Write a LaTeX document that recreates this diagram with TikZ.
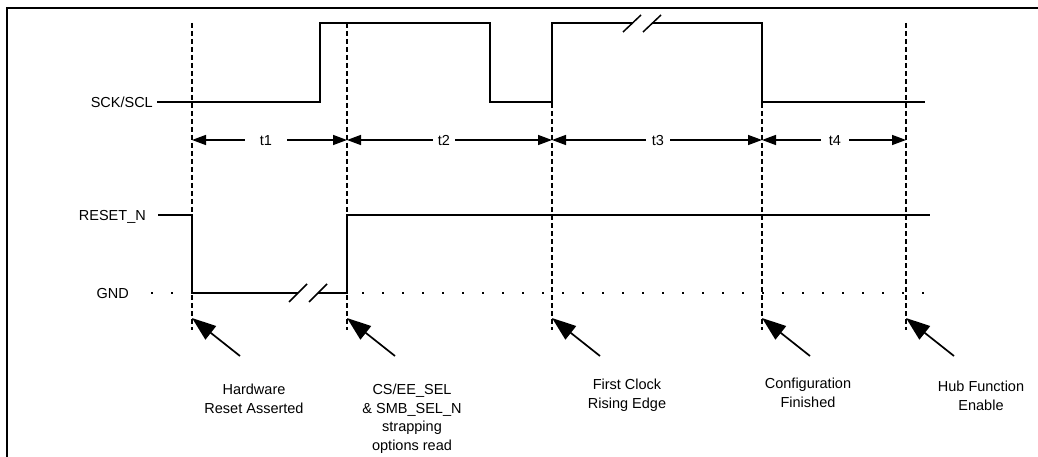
\documentclass[tikz,border=0pt]{standalone}
\usepackage{fontspec}
\setmainfont{Liberation Sans}
\usetikzlibrary{arrows.meta, positioning}

\begin{document}
\begin{tikzpicture}[
        x=1pt, y=-1pt,
        frame/.style={draw, line width=1.7pt},
        signal/.style={draw, line width=1.8pt},
        level/.style={draw, line width=1.7pt, dash pattern=on 2pt off 18pt},
        marker/.style={draw, line width=1.5pt, dash pattern=on 5pt off 3pt},
        breakmark/.style={draw, line width=1.5pt},
        dimarrow/.style={-{Triangle[length=14pt, width=10pt]}, line width=1.5pt},
        eventarrow/.style={-{Triangle[length=24pt, width=17pt]}, line width=1.7pt},
        siglabel/.style={anchor=east, inner sep=0pt, text height=10.5pt, text depth=0pt,
                     font=\fontsize{14.5}{18.5}\selectfont},
        dimlabel/.style={inner ysep=0pt, text height=10.5pt, text depth=0pt,
                     font=\fontsize{14.5}{18.5}\selectfont},
        note/.style={anchor=north, align=center, inner sep=0pt,
                     font=\fontsize{14.5}{18.5}\selectfont}
    ]
        \useasboundingbox (0,0) rectangle (1038,457);
        \draw[frame] (7,457) -- (7,8) -- (1038,8);

        % Event markers
        \foreach \x [count=\i] in {192,347,552,762,906} {
            \coordinate (top\i) at (\x,23);
            \coordinate (bot\i) at (\x,330);
            \coordinate (tip\i) at (\x,318);
            \coordinate (tail\i) at (\x+48,356);
            \draw[marker] (top\i) -- (bot\i);
        }

        % Signal names
        \node[siglabel] (sck) at (153,102) {SCK/SCL};
        \node[siglabel] (reset) at (146,215) {RESET\_N};
        \node[siglabel] (gnd) at (129,293) {GND};

        % SCK/SCL waveform
        \draw[signal] (157,102) -| (320,23) -| (490,102) -| (552,23) -- (632,23);
        \draw[signal] (652,23) -- (762,23) -- (762,102) -- (925,102);
        \draw[breakmark] (623,32) -- (641,15);
        \draw[breakmark] (643,32) -- (661,15);

        % RESET_N waveform and ground level
        \draw[level] (151,293) -- (185,293);
        \draw[level] (362,293) -- (930,293);
        \draw[signal] (158,215) -- (192,215) -- (192,293) -- (298,293);
        \draw[signal] (318,293) -- (347,293) -- (347,215) -- (930,215);
        \draw[breakmark] (289,302) -- (307,284);
        \draw[breakmark] (309,302) -- (327,284);

        % Timing intervals
        \node[dimlabel, inner xsep=15pt] (t1) at (266,140) {t1};
        \node[dimlabel, inner xsep=5pt] (t2) at (444,140) {t2};
        \node[dimlabel, inner xsep=6pt] (t3) at (658,140) {t3};
        \node[dimlabel, inner xsep=8pt] (t4) at (835,140) {t4};
        \draw[dimarrow] (t1) -- (top1 |- t1);
        \draw[dimarrow] (t1) -- (top2 |- t1);
        \draw[dimarrow] (t2) -- (top2 |- t2);
        \draw[dimarrow] (t2) -- (top3 |- t2);
        \draw[dimarrow] (t3) -- (top3 |- t3);
        \draw[dimarrow] (t3) -- (top4 |- t3);
        \draw[dimarrow] (t4) -- (top4 |- t4);
        \draw[dimarrow] (t4) -- (top5 |- t4);

        % Event arrows
        \foreach \i in {1,...,5} {
            \draw[eventarrow] (tail\i) -- (tip\i);
        }

        % Event notes
        \node[note] (hwreset) at (254,384) {Hardware\\Reset Asserted};
        \node[note] (strapread) at (412,384) {CS/EE\_SEL\\\& SMB\_SEL\_N\\strapping\\options read};
        \node[note] (firstclk) at (627,379) {First Clock\\Rising Edge};
        \node[note] (cfgdone) at (808,378) {Configuration\\Finished};
        \node[note] (hubenable) at (981,381) {Hub Function\\Enable};
    \end{tikzpicture}
\end{document}
